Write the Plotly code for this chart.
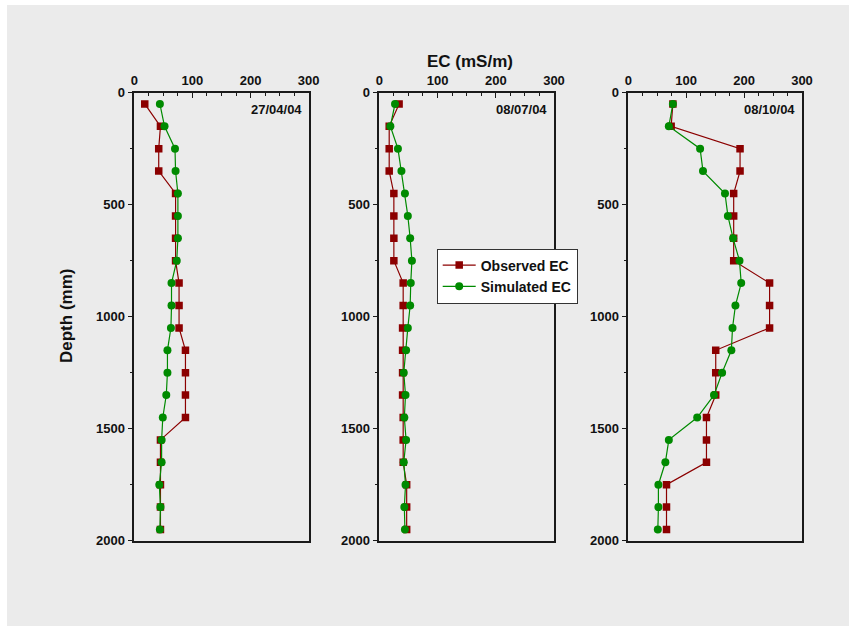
import plotly.graph_objects as go

depth = [50, 150, 250, 350, 450, 550, 650, 750, 850, 950, 1050, 1150, 1250,
         1350, 1450, 1550, 1650, 1750, 1850, 1950]

dates = ["27/04/04", "08/07/04", "08/10/04"]

obs_1 = [18, 45, 42, 42, 71, 71, 71, 71, 77, 77, 77, 88, 88, 88, 88, 45, 45, 45, 45, 45]
sim_1 = [44, 52, 70, 71, 75, 75, 75, 73, 64, 64, 63, 57, 57, 55, 49, 47, 47, 43, 45, 44]

obs_2 = [34, 17, 17, 17, 25, 25, 25, 25, 41, 41, 40, 40, 40, 40, 41, 41, 41, 47, 47, 47]
sim_2 = [27, 19, 32, 38, 44, 49, 53, 56, 54, 53, 49, 46, 42, 45, 43, 46, 42, 45, 43, 44]

obs_3 = [77, 74, 193, 193, 182, 182, 182, 182, 244, 244, 244, 151, 151, 151,
         135, 135, 135, 66, 66, 66]
sim_3 = [77, 70, 124, 129, 167, 172, 181, 192, 195, 185, 180, 178, 162, 148,
         119, 70, 64, 52, 52, 51]

x_ticks = [0, 100, 200, 300]
y_ticks = [0, 500, 1000, 1500, 2000]

observed = [obs_1, obs_2, obs_3]
simulated = [sim_1, sim_2, sim_3]

W, H = 849, 626
RED = "#8b0000"
GREEN = "#008a00"
BG = "#ebebeb"
FONT = "Liberation Sans"
AX = "#1a1a1a"

x_px = [(134.3, 308.7), (379.3, 554.0), (628.3, 802.0)]
y_px = (92.7, 540.7)
ydom = [1 - y_px[1] / H, 1 - y_px[0] / H]

fig = go.Figure()

for i in range(3):
    xa = "x" if i == 0 else f"x{i+1}"
    ya = "y" if i == 0 else f"y{i+1}"
    fig.add_trace(go.Scatter(
        x=observed[i], y=depth, xaxis=xa, yaxis=ya,
        mode="lines+markers", name="Observed EC",
        showlegend=(i == 0),
        line=dict(color=RED, width=1.2),
        marker=dict(symbol="square", size=7.5, color=RED),
    ))
    fig.add_trace(go.Scatter(
        x=simulated[i], y=depth, xaxis=xa, yaxis=ya,
        mode="lines+markers", name="Simulated EC",
        showlegend=(i == 0),
        line=dict(color=GREEN, width=1.2),
        marker=dict(symbol="circle", size=8, color=GREEN),
    ))

layout = {}
tickfont = dict(family=FONT, size=13, color="#111", weight="bold")
for i in range(3):
    xk = "xaxis" if i == 0 else f"xaxis{i+1}"
    yk = "yaxis" if i == 0 else f"yaxis{i+1}"
    ya = "y" if i == 0 else f"y{i+1}"
    xa = "x" if i == 0 else f"x{i+1}"
    layout[xk] = dict(
        domain=[x_px[i][0] / W, x_px[i][1] / W], anchor=ya, side="top",
        range=[0, 300], tickvals=x_ticks, ticks="inside", ticklen=5,
        tickwidth=1.2, tickcolor=AX, automargin=False,
        minor=dict(dtick=25, tick0=0, ticks="inside", ticklen=3, tickcolor=AX),
        showline=True, linecolor=AX, linewidth=1.6, mirror=True,
        showgrid=False, zeroline=False, tickfont=tickfont, ticklabelstandoff=1,
    )
    layout[yk] = dict(
        domain=ydom, anchor=xa, range=[2000, 0], tickvals=y_ticks,
        ticks="outside", ticklen=5, tickwidth=1.2, tickcolor=AX, automargin=False,
        minor=dict(dtick=250, tick0=0, ticks="outside", ticklen=3, tickcolor=AX),
        showline=True, linecolor=AX, linewidth=1.6, mirror=True,
        showgrid=False, zeroline=False, tickfont=tickfont,
    )

annotations = []
for i in range(3):
    annotations.append(dict(
        text=f"<b>{dates[i]}</b>", x=(x_px[i][1] - 5) / W, y=1 - 110 / H,
        xref="paper", yref="paper", xanchor="right", yanchor="middle",
        showarrow=False, font=dict(family=FONT, size=13, color="#111"),
    ))
annotations.append(dict(
    text="<b>EC (mS/m)</b>", x=470 / W, y=1 - 62 / H, xref="paper", yref="paper",
    xanchor="center", yanchor="middle", showarrow=False,
    font=dict(family=FONT, size=17, color="#111"),
))
annotations.append(dict(
    text="<b>Depth (mm)</b>", x=66 / W, y=1 - 316 / H, xref="paper", yref="paper",
    xanchor="center", yanchor="middle", showarrow=False, textangle=-90,
    font=dict(family=FONT, size=17, color="#111"),
))

shapes = [
    dict(type="rect", xref="paper", yref="paper", x0=0, x1=7 / W, y0=0, y1=1,
         fillcolor="white", line=dict(width=0), layer="below"),
    dict(type="rect", xref="paper", yref="paper", x0=0, x1=1, y0=1 - 5 / H, y1=1,
         fillcolor="white", line=dict(width=0), layer="below"),
]

fig.update_layout(
    width=W, height=H, autosize=False,
    margin=dict(l=0, r=0, t=0, b=0, pad=0, autoexpand=False),
    paper_bgcolor=BG, plot_bgcolor=BG,
    font=dict(family=FONT, color="#111"),
    showlegend=True,
    legend=dict(
        x=436.7 / W, y=1 - 248.5 / H, xanchor="left", yanchor="top",
        bgcolor="white", bordercolor="#333", borderwidth=1,
        font=dict(family=FONT, size=14, color="#111", weight="bold"),
        tracegroupgap=0, itemwidth=33, entrywidth=138, entrywidthmode="pixels",
    ),
    annotations=annotations,
    shapes=shapes,
    **layout,
)

post = ("document.documentElement.style.margin='0';"
        "document.body.style.margin='0';"
        "document.body.style.padding='0';"
        "document.body.style.overflow='hidden';")

fig.write_html("out.html", post_script=post,
               config={"displayModeBar": False})
